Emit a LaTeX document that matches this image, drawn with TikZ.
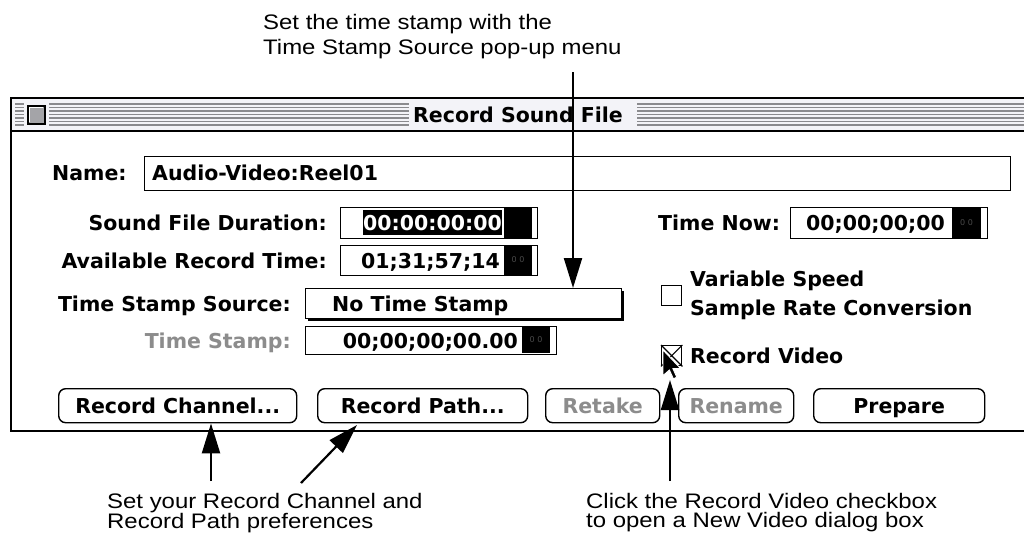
\documentclass[tikz,border=0pt]{standalone}
\usepackage{fontspec}
\setmainfont{Liberation Sans}
\newfontfamily\uifont{DejaVu Sans}
\newfontfamily\notefont[FakeStretch=1.14]{Liberation Sans}
\usetikzlibrary{arrows.meta}
\definecolor{barbg}{HTML}{F3F3F8}
\definecolor{stripe}{HTML}{8A8A8E}
\definecolor{dimtext}{HTML}{8C8C8C}
\definecolor{closegray}{HTML}{A4A4A8}
\definecolor{spinnum}{HTML}{4A4A4A}
\tikzset{
  ui/.style={font=\uifont\fontsize{20.5}{24}\selectfont\bfseries, inner sep=0pt, text=black},
  dim/.style={ui, text=dimtext},
  note/.style={font=\notefont\fontsize{21}{19.5}\selectfont, align=left, inner sep=0pt},
  widenote/.style={note, font=\notefont\fontsize{21}{25}\selectfont},
  field/.style={draw, line width=1.4pt, inner sep=0pt, fill=white},
  btn/.style={draw, line width=1.4pt, rounded corners=7pt, inner sep=0pt, text height=15pt, text depth=0pt},
  chk/.style={draw, line width=1.4pt, inner sep=0pt, minimum size=20pt},
  spinnums/.style={font=\uifont\fontsize{8}{8}\selectfont, text=spinnum, inner sep=0pt},
  callout/.style={line width=2.2pt, -{Triangle[length=30pt,width=18pt]}},
}
\begin{document}
\begin{tikzpicture}[x=1pt,y=-1pt]
\useasboundingbox (0,0) rectangle (1024,535);

% window body
\fill[white] (11,98) rectangle (1024,431);

% title bar with stripes
\fill[barbg] (11,98) rectangle (1024,131);
\foreach \y in {104,107.5,111,114.5,118,121.5,125}
  \draw[stripe, line width=1.1pt] (15,\y) -- (1024,\y);
\fill[barbg] (24,102) rectangle (49,128);
\fill[barbg] (409,101) rectangle (637,129);
\draw[line width=1.3pt, fill=closegray] (28,106) rectangle (45,124);
\draw[white, line width=0.8pt] (29.6,122.4) -- (29.6,107.6) -- (43.4,107.6);
\node[ui, anchor=base] (title) at (518,122) {Record Sound File};

% window frame
\draw[line width=1.5pt] (1024,98) -- (11,98) -- (11,431) -- (1024,431);
\draw[line width=1.5pt] (11,131) -- (1024,131);

% name field
\node[ui, anchor=base west] (namelbl) at (52,180) {Name:};
\node[field, anchor=north west, minimum width=866pt, minimum height=34pt] (namefld) at (144,156) {};
\node[ui, anchor=base west] (nametxt) at (152,180) {Audio-Video:Reel01};

% sound file duration
\node[ui, anchor=base east] (durlbl) at (327,230) {Sound File Duration:};
\node[field, anchor=north west, minimum width=197pt, minimum height=31pt] (durfld) at (340,207) {};
\fill (363,210) rectangle (502,235);
\node[ui, text=white, anchor=base] (durtxt) at (432.5,230) {00:00:00:00};
\fill (504,208) rectangle (532,237.5);

% available record time
\node[ui, anchor=base east] (avllbl) at (327,268) {Available Record Time:};
\node[field, anchor=north west, minimum width=197pt, minimum height=30pt] (avlfld) at (340,245) {};
\node[ui, anchor=base east] (avltxt) at (500,268) {01;31;57;14};
\fill (504,246) rectangle (532,274.5);
\node[spinnums] (avlspin) at (518,260) {0 0};

% time now
\node[ui, anchor=base west] (nowlbl) at (658,230) {Time Now:};
\node[field, anchor=north west, minimum width=197pt, minimum height=31pt] (nowfld) at (790,207) {};
\node[ui, anchor=base east] (nowtxt) at (945,230) {00;00;00;00};
\fill (952,208) rectangle (981,237.5);
\node[spinnums] (nowspin) at (966.5,222.5) {0 0};

% time stamp source pop-up
\node[ui, anchor=base east] (srclbl) at (291,311) {Time Stamp Source:};
\fill (308,291) rectangle (624,321);
\node[field, anchor=north west, minimum width=316pt, minimum height=30pt] (popup) at (305,288) {};
\node[ui, anchor=base west] (srctxt) at (332,311) {No Time Stamp};

% time stamp
\node[dim, anchor=base east] (tslbl) at (291,348) {Time Stamp:};
\node[field, anchor=north west, minimum width=251pt, minimum height=28pt] (tsfld) at (305,326) {};
\node[ui, anchor=base east] (tstxt) at (518,348) {00;00;00;00.00};
\fill (522,327) rectangle (550,353);
\node[spinnums] (tsspin) at (536,340) {0 0};

% check boxes
\node[chk, anchor=north west] (vscheck) at (661,285) {};
\node[ui, anchor=base west] (vs1) at (690,286) {Variable Speed};
\node[ui, anchor=base west] (vs2) at (690,315) {Sample Rate Conversion};
\node[chk, anchor=north west] (rvcheck) at (661,345) {};
\draw[line width=1.1pt] (rvcheck.north west) -- (rvcheck.south east)
                        (rvcheck.north east) -- (rvcheck.south west);
\node[ui, anchor=base west] (rvtxt) at (690,363) {Record Video};

% mouse pointer
\begin{scope}[shift={(663,350)}, x=1.6pt, y=-1.6pt]
  \filldraw[fill=black, draw=white, line width=0.9pt, line join=miter]
    (0,0) -- (0,16) -- (4,12.5) -- (6.5,18) -- (8.6,17) -- (6.2,11.6) -- (11,11.6) -- cycle;
\end{scope}
\coordinate (cur) at (670,380);

% buttons
\node[btn, ui, anchor=north west, minimum width=238pt, minimum height=34pt] (chanbtn) at (58,388) {Record Channel...};
\node[btn, ui, anchor=north west, minimum width=210pt, minimum height=34pt] (pathbtn) at (317,388) {Record Path...};
\node[btn, dim, anchor=north west, minimum width=114pt, minimum height=34pt] (retakebtn) at (545,388) {Retake};
\node[btn, dim, anchor=north west, minimum width=115pt, minimum height=34pt] (renamebtn) at (678,388) {Rename};
\node[btn, ui, anchor=north west, minimum width=171pt, minimum height=34pt] (prepbtn) at (813,388) {Prepare};

% callout texts
\node[widenote, anchor=north west] (topnote) at (263,14.5) {Set the time stamp with the\\Time Stamp Source pop-up menu};
\node[note, anchor=north west] (leftnote) at (107,493) {Set your Record Channel and\\Record Path preferences};
\node[note, anchor=north west] (rightnote) at (586,493) {Click the Record Video checkbox\\to open a New Video dialog box};

% callout arrows
\coordinate (tsrc) at (573,72);
\draw[callout] (tsrc) -- (tsrc |- popup.north);
\coordinate (chanfoot) at (211,481);
\draw[callout] (chanfoot) -- (chanfoot |- chanbtn.south);
\coordinate (pathfoot) at (301,483);
\coordinate (pathtip) at (357,425);
\draw[callout] (pathfoot) -- (pathtip);
\coordinate (vidfoot) at (670,481);
\draw[callout] (vidfoot) -- (cur);
\end{tikzpicture}
\end{document}
